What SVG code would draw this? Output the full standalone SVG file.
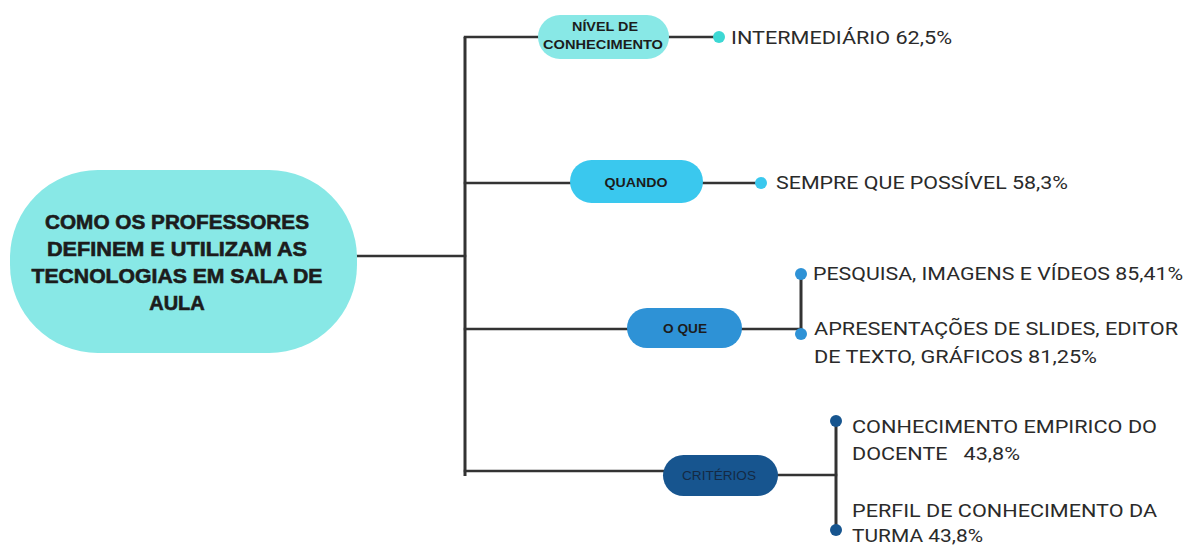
<svg xmlns="http://www.w3.org/2000/svg" width="1189" height="545" viewBox="0 0 1189 545">
<style>
.ln{stroke:#333;stroke-width:2.5;fill:none;stroke-linecap:square}
.vl{stroke:#333;stroke-width:3;fill:none}
.leaf{font-family:Roboto,"Liberation Sans",sans-serif;font-size:18.5px;fill:#2a2a2a;white-space:pre}
.lbl{font-family:"Liberation Sans",Arial,sans-serif;font-weight:bold;font-size:13px;fill:#1c1c1c;text-anchor:middle}
.main{font-family:"Liberation Sans",Arial,sans-serif;font-weight:bold;font-size:20px;fill:#1c1c1c;stroke:#1c1c1c;stroke-width:0.6;text-anchor:middle}
</style>
<rect width="1189" height="545" fill="#ffffff"/>
<g id="connectors">
<line class="ln" x1="357" y1="256" x2="465" y2="256"/>
<line class="vl" x1="465" y1="37" x2="465" y2="476"/>
<line class="ln" x1="465" y1="37" x2="538" y2="37"/>
<line class="ln" x1="465" y1="183" x2="570" y2="183"/>
<line class="ln" x1="465" y1="329" x2="627" y2="329"/>
<line class="ln" x1="465" y1="471" x2="663" y2="471"/>
<line class="ln" x1="669" y1="37" x2="719" y2="37"/>
<line class="ln" x1="703" y1="183" x2="761" y2="183"/>
<line class="ln" x1="742" y1="329" x2="801" y2="329"/>
<line class="vl" x1="801" y1="274" x2="801" y2="334"/>
<line class="ln" x1="778" y1="475" x2="836" y2="475"/>
<line class="vl" x1="836" y1="421" x2="836" y2="530"/>
</g>
<g id="main">
<rect x="10" y="170" width="347" height="183" rx="88" ry="88" fill="#88E8E6"/>
<text class="main" x="177" y="229" textLength="264" lengthAdjust="spacingAndGlyphs">COMO OS PROFESSORES</text>
<text class="main" x="177" y="256" textLength="260" lengthAdjust="spacingAndGlyphs">DEFINEM E UTILIZAM AS</text>
<text class="main" x="177" y="283" textLength="291" lengthAdjust="spacingAndGlyphs">TECNOLOGIAS EM SALA DE</text>
<text class="main" x="177" y="310">AULA</text>
</g>
<g id="nivel">
<rect x="538" y="15" width="131" height="44" rx="22" fill="#88E8E6"/>
<text class="lbl" x="605" y="31" textLength="66" lengthAdjust="spacingAndGlyphs">NÍVEL DE</text>
<text class="lbl" x="603" y="49" textLength="120" lengthAdjust="spacingAndGlyphs">CONHECIMENTO</text>
</g>
<g id="nivel-leaf">
<circle cx="719" cy="37" r="6" fill="#3DD8D4"/>
<text class="leaf" x="731" y="44" textLength="221" lengthAdjust="spacingAndGlyphs">INTERMEDIÁRIO 62,5%</text>
</g>
<g id="quando">
<rect x="570" y="160" width="133" height="43" rx="21.5" fill="#3AC8EE"/>
<text class="lbl" x="636" y="187" textLength="63" lengthAdjust="spacingAndGlyphs">QUANDO</text>
</g>
<g id="quando-leaf">
<circle cx="761" cy="183" r="6" fill="#3AC8EE"/>
<text class="leaf" x="776" y="189" textLength="292" lengthAdjust="spacingAndGlyphs">SEMPRE QUE POSSÍVEL 58,3%</text>
</g>
<g id="oque">
<rect x="627" y="308" width="115" height="40" rx="20" fill="#2E92D6"/>
<text class="lbl" x="685" y="333" textLength="44" lengthAdjust="spacingAndGlyphs">O QUE</text>
</g>
<g id="oque-leaf1">
<circle cx="801" cy="274" r="6" fill="#2E92D6"/>
<text class="leaf" x="813" y="280" textLength="370" lengthAdjust="spacingAndGlyphs">PESQUISA, IMAGENS E VÍDEOS 85,41%</text>
</g>
<g id="oque-leaf2">
<circle cx="801" cy="334" r="6" fill="#2E92D6"/>
<text class="leaf" x="814" y="335" textLength="364" lengthAdjust="spacingAndGlyphs">APRESENTAÇÕES DE SLIDES, EDITOR</text>
<text class="leaf" x="814" y="363" textLength="283" lengthAdjust="spacingAndGlyphs">DE TEXTO, GRÁFICOS 81,25%</text>
</g>
<g id="criterios">
<rect x="663" y="455" width="115" height="41" rx="20.5" fill="#17558F"/>
<text x="719" y="480" font-family="'Liberation Sans',Arial,sans-serif" font-size="13" fill="#142a44" text-anchor="middle" textLength="74" lengthAdjust="spacingAndGlyphs">CRITÉRIOS</text>
</g>
<g id="criterios-leaf1">
<circle cx="836" cy="421" r="6" fill="#17558F"/>
<text class="leaf" x="852" y="433" textLength="305" lengthAdjust="spacingAndGlyphs">CONHECIMENTO EMPIRICO DO</text>
<text class="leaf" x="852" y="460" textLength="168" lengthAdjust="spacingAndGlyphs">DOCENTE   43,8%</text>
</g>
<g id="criterios-leaf2">
<circle cx="836" cy="530" r="6" fill="#17558F"/>
<text class="leaf" x="852" y="517" textLength="305" lengthAdjust="spacingAndGlyphs">PERFIL DE CONHECIMENTO DA</text>
<text class="leaf" x="852" y="542" textLength="131" lengthAdjust="spacingAndGlyphs">TURMA 43,8%</text>
</g>
</svg>
